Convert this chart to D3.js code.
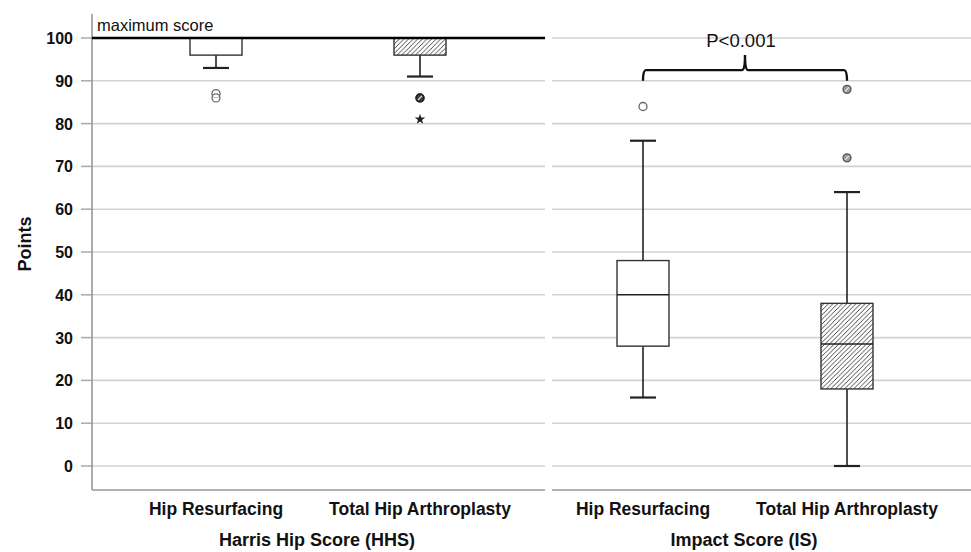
<!DOCTYPE html>
<html>
<head>
<meta charset="utf-8">
<script src="https://cdn.jsdelivr.net/npm/d3@7"></script>
<style>
  body { margin: 0; background: #fff; }
  svg { display: block; font-family: "Liberation Sans", Arial, sans-serif; }
</style>
</head>
<body>
<svg width="971" height="552"></svg>
<script>
// categories and panels
const groups = ['Hip Resurfacing', 'Total Hip Arthroplasty'];
const scores = ['Harris Hip Score (HHS)', 'Impact Score (IS)'];
const yTicks = [0, 10, 20, 30, 40, 50, 60, 70, 80, 90, 100];

// box statistics [low whisker, q1, median, q3, high whisker]
const hhsBoxes = [[93, 96, 100, 100, 100], [91, 96, 100, 100, 100]];
const isBoxes = [[16, 28, 40, 48, 76], [0, 18, 28.5, 38, 64]];

// outliers (circles) and extremes (stars) per group
const hhsOutliers = [[87, 86], [86, 86, 86]];
const hhsExtremes = [[], [81]];
const isOutliers = [[84], [88, 72]];
const isExtremes = [[], []];

const maxScore = 100;
const pText = 'P<0.001';
const bracket = { ends: 90, bar: 92.5, peak: 96 };

(function (d3) {
  'use strict';

  const svg = d3.select('svg');
  const top = 14, bottom = 490;

  const y = d3.scaleLinear().domain([0, 100]).range([466, 38]);

  const panels = [
    { title: scores[0], x0: 92, x1: 545, range: [216, 420], boxes: hhsBoxes, outliers: hhsOutliers, extremes: hhsExtremes },
    { title: scores[1], x0: 552, x1: 971, range: [643, 847], boxes: isBoxes, outliers: isOutliers, extremes: isExtremes }
  ];

  const defs = svg.append('defs');
  defs.append('pattern')
    .attr('id', 'hatch')
    .attr('patternUnits', 'userSpaceOnUse')
    .attr('width', 4.6).attr('height', 4.6)
    .call(p => p.append('rect').attr('width', 4.6).attr('height', 4.6).attr('fill', '#fff'))
    .append('path')
      .attr('d', 'M-1,1 l2,-2 M0,4.6 l4.6,-4.6 M3.6,5.6 l2,-2')
      .attr('stroke', '#333')
      .attr('stroke-width', 0.9);

  // y axis labels and ticks
  const yAxisG = svg.append('g');
  yAxisG.selectAll('line').data(yTicks).enter().append('line')
    .attr('x1', 81).attr('x2', 92)
    .attr('y1', d => y(d)).attr('y2', d => y(d))
    .attr('stroke', '#aaa').attr('stroke-width', 1.5);
  yAxisG.selectAll('text').data(yTicks).enter().append('text')
    .attr('x', 73).attr('y', d => y(d) + 6)
    .attr('text-anchor', 'end')
    .attr('font-size', 16).attr('font-weight', 'bold')
    .attr('fill', '#111')
    .text(d => d);

  svg.append('text')
    .attr('transform', `translate(31, 244) rotate(-90)`)
    .attr('text-anchor', 'middle')
    .attr('font-size', 18).attr('font-weight', 'bold')
    .attr('fill', '#111')
    .text('Points');

  panels.forEach((p, pi) => {
    const x = d3.scalePoint().domain(groups).range(p.range);
    const g = svg.append('g');

    // grid
    g.selectAll('.grid').data(yTicks).enter().append('line')
      .attr('x1', p.x0).attr('x2', p.x1)
      .attr('y1', d => y(d)).attr('y2', d => y(d))
      .attr('stroke', '#d2d2d2').attr('stroke-width', 1.6);

    // bottom axis line
    g.append('line')
      .attr('x1', p.x0).attr('x2', p.x1)
      .attr('y1', bottom).attr('y2', bottom)
      .attr('stroke', '#999').attr('stroke-width', 1.6);

    if (pi === 0) {
      g.append('line')
        .attr('x1', p.x0).attr('x2', p.x0)
        .attr('y1', top).attr('y2', bottom)
        .attr('stroke', '#999').attr('stroke-width', 1.6);
    }

    const bw = 52, cw = 26;
    const box = g.selectAll('.box').data(p.boxes).enter().append('g')
      .attr('transform', (d, i) => `translate(${x(groups[i])},0)`);

    // whiskers
    box.append('line')
      .attr('y1', d => y(d[3])).attr('y2', d => y(d[4]))
      .attr('stroke', '#222').attr('stroke-width', 1.6);
    box.append('line')
      .attr('y1', d => y(d[1])).attr('y2', d => y(d[0]))
      .attr('stroke', '#222').attr('stroke-width', 1.6);
    box.filter(d => d[4] > d[3]).append('line')
      .attr('x1', -cw / 2).attr('x2', cw / 2)
      .attr('y1', d => y(d[4])).attr('y2', d => y(d[4]))
      .attr('stroke', '#222').attr('stroke-width', 2.2);
    box.filter(d => d[0] < d[1]).append('line')
      .attr('x1', -cw / 2).attr('x2', cw / 2)
      .attr('y1', d => y(d[0])).attr('y2', d => y(d[0]))
      .attr('stroke', '#222').attr('stroke-width', 2.2);

    box.append('rect')
      .attr('x', -bw / 2).attr('width', bw)
      .attr('y', d => y(d[3])).attr('height', d => y(d[1]) - y(d[3]))
      .attr('fill', (d, i) => i === 1 ? 'url(#hatch)' : '#fff')
      .attr('stroke', '#333').attr('stroke-width', 1.4);
    box.append('line')
      .attr('x1', -bw / 2).attr('x2', bw / 2)
      .attr('y1', d => y(d[2])).attr('y2', d => y(d[2]))
      .attr('stroke', '#222').attr('stroke-width', 1.5);

    // outliers
    p.outliers.forEach((vals, i) => {
      const cx = x(groups[i]);
      const o = g.selectAll(null).data(vals).enter().append('g')
        .attr('transform', d => `translate(${cx},${y(d)})`);
      if (i === 0) {
        o.append('circle').attr('r', 4)
          .attr('fill', '#fff').attr('fill-opacity', 0.6)
          .attr('stroke', '#666').attr('stroke-width', 1.3);
      } else {
        o.append('circle').attr('r', 4)
          .attr('fill', '#000').attr('fill-opacity', 0.38)
          .attr('stroke', '#222').attr('stroke-opacity', 0.7).attr('stroke-width', 1.3);
        o.append('line')
          .attr('x1', -2).attr('y1', 2).attr('x2', 2).attr('y2', -2)
          .attr('stroke', '#fff').attr('stroke-opacity', 0.8).attr('stroke-width', 1.1);
      }
    });
    p.extremes.forEach((vals, i) => {
      g.selectAll(null).data(vals).enter().append('path')
        .attr('transform', d => `translate(${x(groups[i])},${y(d)})`)
        .attr('d', d3.symbol(d3.symbolStar, 34))
        .attr('fill', '#222');
    });

    // category labels
    g.selectAll('.cat').data(groups).enter().append('text')
      .attr('x', d => x(d)).attr('y', 515)
      .attr('text-anchor', 'middle')
      .attr('font-size', 17.5).attr('font-weight', 'bold')
      .attr('fill', '#111')
      .text(d => d);
    g.append('text')
      .attr('x', (p.range[0] + p.range[1]) / 2 - 1).attr('y', 546)
      .attr('text-anchor', 'middle')
      .attr('font-size', 18).attr('font-weight', 'bold')
      .attr('fill', '#111')
      .text(p.title);

    if (pi === 0) {
      g.append('line')
        .attr('x1', p.x0).attr('x2', p.x1)
        .attr('y1', y(maxScore)).attr('y2', y(maxScore))
        .attr('stroke', '#000').attr('stroke-width', 2.4);
      g.append('text')
        .attr('x', 97).attr('y', 31)
        .attr('font-size', 16.5)
        .attr('fill', '#111')
        .text('maximum score');
    } else {
      const xa = x(groups[0]), xb = x(groups[1]), xm = 745;
      const yb = y(bracket.bar), ye = y(bracket.ends), yp = y(bracket.peak);
      g.append('path')
        .attr('d', `M${xa},${ye} Q${xa},${yb} ${xa + 3},${yb} L${xm - 3},${yb} Q${xm},${yb} ${xm},${yp} ` +
          `Q${xm},${yb} ${xm + 3},${yb} L${xb - 3},${yb} Q${xb},${yb} ${xb},${ye}`)
        .attr('fill', 'none')
        .attr('stroke', '#111').attr('stroke-width', 2.4);
      g.append('text')
        .attr('x', 741).attr('y', 47)
        .attr('text-anchor', 'middle')
        .attr('font-size', 18.5)
        .attr('fill', '#111')
        .text(pText);
    }
  });
}(d3));
</script>
</body>
</html>
